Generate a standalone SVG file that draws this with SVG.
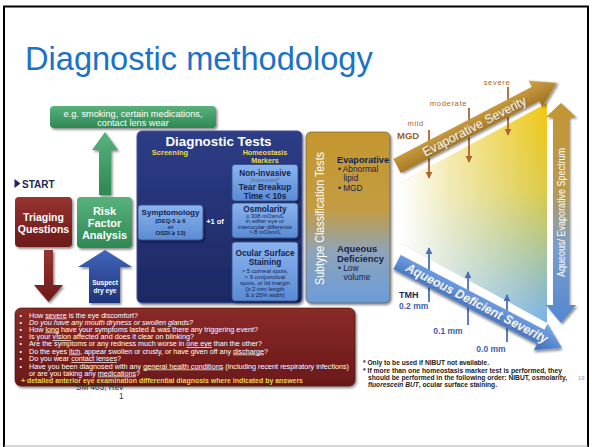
<svg xmlns="http://www.w3.org/2000/svg" width="592" height="447" viewBox="0 0 592 447">
<defs>
<style>
text{font-family:"Liberation Sans",Arial,Helvetica,sans-serif}
.wb{fill:#fff;font-weight:bold}
.nv{fill:#15234f}
.nvb{fill:#15234f;font-weight:bold}
.yl{fill:#ecd94a;font-weight:bold}
.q{fill:#fff;font-size:7px}
.br{fill:#a8672e;font-size:7.5px;letter-spacing:0.7px}
.bl{fill:#3a5fae;font-size:8.5px;font-weight:bold}
.note{fill:#222;font-size:6.6px;font-weight:bold}
.u{text-decoration:underline}
</style>
<filter id="sh" x="-10%" y="-10%" width="130%" height="130%"><feDropShadow dx="1.5" dy="1.8" stdDeviation="1" flood-color="#000" flood-opacity="0.45"/></filter>
<filter id="ts" x="-5%" y="-20%" width="110%" height="150%"><feDropShadow dx="0.6" dy="0.6" stdDeviation="0.4" flood-color="#000" flood-opacity="0.5"/></filter>
<linearGradient id="gGreen" x1="0" y1="0" x2="0" y2="1"><stop offset="0" stop-color="#58b27c"/><stop offset="1" stop-color="#2f8853"/></linearGradient>
<linearGradient id="gRed" x1="0" y1="0" x2="0" y2="1"><stop offset="0" stop-color="#973330"/><stop offset="1" stop-color="#6c1919"/></linearGradient>
<linearGradient id="gRedBox" x1="0" y1="0" x2="0" y2="1"><stop offset="0" stop-color="#8a2a28"/><stop offset="1" stop-color="#6a1818"/></linearGradient>
<linearGradient id="gNavy" x1="0" y1="0" x2="0" y2="1"><stop offset="0" stop-color="#2d3d86"/><stop offset="1" stop-color="#1c2863"/></linearGradient>
<linearGradient id="gLb" x1="0" y1="0" x2="0" y2="1"><stop offset="0" stop-color="#8ab4ee"/><stop offset="1" stop-color="#5a8bd3"/></linearGradient>
<linearGradient id="gSus" x1="0" y1="0" x2="0" y2="1"><stop offset="0" stop-color="#4066bb"/><stop offset="1" stop-color="#1f337c"/></linearGradient>
<linearGradient id="gSub" x1="0" y1="0" x2="0" y2="1"><stop offset="0" stop-color="#c4962e"/><stop offset="0.45" stop-color="#c39c42"/><stop offset="0.7" stop-color="#8ea4b8"/><stop offset="1" stop-color="#6a9bdc"/></linearGradient>
<linearGradient id="gEvap" x1="0" y1="0" x2="0" y2="1"><stop offset="0" stop-color="#d2a646"/><stop offset="1" stop-color="#9a6d20"/></linearGradient>
<linearGradient id="gAq" x1="0" y1="0" x2="0" y2="1"><stop offset="0" stop-color="#7aaae6"/><stop offset="1" stop-color="#3c6cbf"/></linearGradient>
<linearGradient id="gSpec" x1="0" y1="0" x2="0" y2="1"><stop offset="0" stop-color="#c49532"/><stop offset="0.4" stop-color="#b89a50"/><stop offset="0.65" stop-color="#7c9ec8"/><stop offset="1" stop-color="#5286d2"/></linearGradient>
<linearGradient id="gTri" x1="0" y1="103" x2="0" y2="323" gradientUnits="userSpaceOnUse"><stop offset="0" stop-color="#f1c914"/><stop offset="0.4" stop-color="#dccb4a"/><stop offset="0.7" stop-color="#a8c4a0"/><stop offset="1" stop-color="#78b2ea"/></linearGradient>
<linearGradient id="gFade" x1="400" y1="0" x2="545" y2="0" gradientUnits="userSpaceOnUse"><stop offset="0" stop-color="#fff" stop-opacity="1"/><stop offset="0.35" stop-color="#fff" stop-opacity="0.6"/><stop offset="1" stop-color="#fff" stop-opacity="0"/></linearGradient>
<marker id="mBr" viewBox="0 0 10 10" refX="9" refY="5" markerWidth="4" markerHeight="4" orient="auto"><path d="M0,0 L10,5 L0,10 z" fill="#a8672e"/></marker>
<marker id="mBl" viewBox="0 0 10 10" refX="9" refY="5" markerWidth="4" markerHeight="4" orient="auto"><path d="M0,0 L10,5 L0,10 z" fill="#4a70b8"/></marker>
</defs>

<rect x="0" y="0" width="592" height="447" fill="#fff"/>
<g id="frame">
<line x1="3" y1="6.5" x2="589" y2="6.5" stroke="#000" stroke-width="2"/>
<line x1="4" y1="6" x2="4" y2="447" stroke="#000" stroke-width="2"/>
<line x1="588" y1="6" x2="588" y2="447" stroke="#000" stroke-width="2"/>
<line x1="4" y1="446" x2="588" y2="446" stroke="#aaa" stroke-width="1"/>
</g>

<text id="title" x="25" y="70" font-size="32.6" fill="#1a73c7">Diagnostic methodology</text>

<g id="connectors">
<polygon points="105,132 118,150 111,150 111,195 99,195 99,150 92,150" fill="url(#gGreen)" filter="url(#sh)"/>
<polygon points="44,250 53,250 53,285 63,285 48.5,302 34,285 44,285" fill="url(#gRed)" filter="url(#sh)"/>
<polygon points="105,250 132,267 120,267 120,303 89,303 89,267 78,267" fill="url(#gSus)" filter="url(#sh)"/>
<polygon points="205,215 224,215 224,208 235,220.5 224,233 224,227 205,227" fill="url(#gRed)" filter="url(#sh)"/>
</g>

<g id="risk-examples">
<rect x="50" y="106" width="166" height="22" rx="4" fill="url(#gGreen)" filter="url(#sh)"/>
<text x="133" y="116.5" font-size="9.2" fill="#fff" text-anchor="middle">e.g. smoking, certain medications,</text>
<text x="133" y="126" font-size="9.2" fill="#fff" text-anchor="middle">contact lens wear</text>
</g>

<g id="start">
<polygon points="14.5,179 20.5,183.5 14.5,188" fill="#1c2a55"/>
<text x="22" y="187.5" font-size="10" font-weight="bold" fill="#1c2a55">START</text>
</g>

<g id="triaging">
<rect x="15" y="197" width="57" height="50" rx="4" fill="url(#gRed)" filter="url(#sh)"/>
<text x="43.5" y="221" font-size="10.5" class="wb" text-anchor="middle">Triaging</text>
<text x="43.5" y="232.5" font-size="10.5" class="wb" text-anchor="middle">Questions</text>
</g>

<g id="risk">
<rect x="77" y="197" width="55" height="51" rx="4" fill="url(#gGreen)" filter="url(#sh)"/>
<text x="104.5" y="215" font-size="11" class="wb" text-anchor="middle">Risk</text>
<text x="104.5" y="227" font-size="11" class="wb" text-anchor="middle">Factor</text>
<text x="104.5" y="239" font-size="11" class="wb" text-anchor="middle">Analysis</text>
</g>

<g id="suspect">
<text x="105" y="284.5" font-size="6.6" class="wb" text-anchor="middle">Suspect</text>
<text x="105" y="292.5" font-size="6.6" class="wb" text-anchor="middle">dry eye</text>
</g>

<g id="diagnostic-tests">
<rect x="137" y="131" width="165" height="172" rx="5" fill="url(#gNavy)" stroke="#43539a" stroke-width="1" filter="url(#sh)"/>
<text x="218.5" y="145.5" font-size="13.4" class="wb" text-anchor="middle">Diagnostic Tests</text>
<text x="170" y="155" font-size="7.5" class="yl" text-anchor="middle">Screening</text>
<text x="265" y="154.5" font-size="7.2" class="yl" text-anchor="middle">Homeostasis</text>
<text x="265" y="162.6" font-size="7.2" class="yl" text-anchor="middle">Markers</text>
</g>

<g id="symptomology">
<rect x="138" y="205" width="65" height="35" rx="3" fill="url(#gLb)" stroke="#2d4a8c" stroke-width="0.8" filter="url(#sh)"/>
<text x="170.5" y="215" font-size="8" class="nvb" text-anchor="middle">Symptomology</text>
<text x="170.5" y="223" font-size="6" class="nvb" text-anchor="middle">(DEQ-5 ≥ 6</text>
<text x="170.5" y="229" font-size="6" class="nvb" text-anchor="middle">or</text>
<text x="170.5" y="235" font-size="6" class="nvb" text-anchor="middle">OSDI ≥ 13)</text>
</g>

<text x="215" y="224" font-size="7.5" class="wb" text-anchor="middle">+1 of</text>

<g id="non-invasive">
<rect x="232" y="164.5" width="66" height="36.5" rx="3" fill="url(#gLb)" stroke="#2d4a8c" stroke-width="0.8" filter="url(#sh)"/>
<text x="265" y="176" font-size="8.3" class="nvb" text-anchor="middle">Non-invasive</text>
<text x="265" y="181.5" font-size="5" fill="#53648f" text-anchor="middle">[fluorescein]*</text>
<text x="265" y="190" font-size="8.3" class="nvb" text-anchor="middle">Tear Breakup</text>
<text x="265" y="199" font-size="8.3" class="nvb" text-anchor="middle">Time &lt; 10s</text>
</g>

<g id="osmolarity">
<rect x="232" y="203" width="66" height="35" rx="3" fill="url(#gLb)" stroke="#2d4a8c" stroke-width="0.8" filter="url(#sh)"/>
<text x="265" y="211.5" font-size="8.3" class="nvb" text-anchor="middle">Osmolarity</text>
<text x="265" y="217.5" font-size="5.8" class="nv" text-anchor="middle">≥ 308 mOsm/L</text>
<text x="265" y="223" font-size="5.8" class="nv" text-anchor="middle">in either eye or</text>
<text x="265" y="228.5" font-size="5.8" class="nv" text-anchor="middle">interocular difference</text>
<text x="265" y="234" font-size="5.8" class="nv" text-anchor="middle">&gt; 8 mOsm/L</text>
</g>

<g id="ocular-surface">
<rect x="232" y="242" width="66" height="59" rx="3" fill="url(#gLb)" stroke="#2d4a8c" stroke-width="0.8" filter="url(#sh)"/>
<text x="265" y="256" font-size="8.3" class="nvb" text-anchor="middle">Ocular Surface</text>
<text x="265" y="264.5" font-size="8.3" class="nvb" text-anchor="middle">Staining</text>
<text x="265" y="273" font-size="5.9" class="nv" text-anchor="middle">&gt; 5 corneal spots,</text>
<text x="265" y="279" font-size="5.9" class="nv" text-anchor="middle">&gt; 9 conjunctival</text>
<text x="265" y="285" font-size="5.9" class="nv" text-anchor="middle">spots, or lid margin</text>
<text x="265" y="291" font-size="5.9" class="nv" text-anchor="middle">[≥ 2 mm length</text>
<text x="265" y="297" font-size="5.9" class="nv" text-anchor="middle">&amp; ≥ 25% width]</text>
</g>

<g id="subtype">
<rect x="306" y="132" width="84" height="171" rx="5" fill="url(#gSub)" stroke="#5a5030" stroke-width="0.6" filter="url(#sh)"/>
<text transform="translate(324,285) rotate(-90)" font-size="13" fill="#fff" textLength="133" lengthAdjust="spacingAndGlyphs">Subtype Classification Tests</text>
<text x="337" y="163" font-size="9.2" class="nvb">Evaporative</text>
<text x="338" y="172" font-size="8.3" class="nv">• Abnormal</text>
<text x="343.5" y="181" font-size="8.3" class="nv">lipid</text>
<text x="338" y="191" font-size="8.3" class="nv">• MGD</text>
<text x="337" y="252" font-size="9.4" class="nvb">Aqueous</text>
<text x="337" y="261.5" font-size="9.4" class="nvb">Deficiency</text>
<text x="338" y="271" font-size="8.3" class="nv">• Low</text>
<text x="343.5" y="280" font-size="8.3" class="nv">volume</text>
</g>

<g id="severity-triangle">
<polygon points="400,183 547,103 547,323 400,243" fill="url(#gTri)"/>
<polygon points="400,183 547,103 547,323 400,243" fill="url(#gFade)"/>
</g>

<g id="severity-ticks">
<line x1="429" y1="130" x2="429" y2="178" stroke="#a8672e" stroke-width="1.8" marker-end="url(#mBr)"/>
<line x1="469" y1="108" x2="469" y2="162" stroke="#a8672e" stroke-width="1.8" marker-end="url(#mBr)"/>
<line x1="508" y1="87" x2="508" y2="135" stroke="#a8672e" stroke-width="1.8" marker-end="url(#mBr)"/>
<line x1="429" y1="302" x2="429" y2="248" stroke="#4a70b8" stroke-width="1.8" marker-end="url(#mBl)"/>
<line x1="468" y1="325" x2="468" y2="272" stroke="#4a70b8" stroke-width="1.8" marker-end="url(#mBl)"/>
<line x1="507" y1="342" x2="507" y2="295" stroke="#4a70b8" stroke-width="1.8" marker-end="url(#mBl)"/>
</g>

<g id="evaporative-severity" transform="translate(397,166) rotate(-27.5)">
<polygon points="0,-8 156,-8 156,-15 180,0 156,15 156,8 0,8" fill="url(#gEvap)" filter="url(#sh)"/>
<text x="87" y="4.5" font-size="12.5" fill="#fff" text-anchor="middle" textLength="115" lengthAdjust="spacingAndGlyphs" filter="url(#ts)">Evaporative Severity</text>
</g>

<g id="aqueous-severity" transform="translate(397,262) rotate(27.5)">
<polygon points="0,-8 162,-8 162,-15 186,0 162,15 162,8 0,8" fill="url(#gAq)" filter="url(#sh)"/>
<text x="90" y="4.3" font-size="12.2" fill="#fff" font-weight="bold" font-style="italic" text-anchor="middle" textLength="158" lengthAdjust="spacingAndGlyphs" filter="url(#ts)">Aqueous Deficient Severity</text>
</g>

<g id="spectrum">
<polygon points="561,103 576,117 569,117 569,305 576,305 561,323 546,305 553,305 553,117 546,117" fill="url(#gSpec)" filter="url(#sh)"/>
<text transform="translate(565,277) rotate(-90)" font-size="11" fill="#fff" textLength="129" lengthAdjust="spacingAndGlyphs">Aqueous/ Evaporative Spectrum</text>
</g>

<g id="severity-labels">
<text x="497" y="85" class="br" text-anchor="middle">severe</text>
<text x="448.5" y="106" class="br" text-anchor="middle">moderate</text>
<text x="424" y="125.5" class="br" text-anchor="end">mild</text>
<text x="397" y="139" font-size="9.5" font-weight="bold" fill="#a0602a">MGD</text>
<text x="399" y="298" font-size="9" font-weight="bold" fill="#1c2a55">TMH</text>
<text x="399" y="309" class="bl">0.2 mm</text>
<text x="448" y="334" class="bl" text-anchor="middle">0.1 mm</text>
<text x="491" y="352" class="bl" text-anchor="middle">0.0 mm</text>
</g>

<g id="triage-questions">
<rect x="15" y="308" width="340" height="78" rx="6" fill="url(#gRedBox)" stroke="#3a0c0c" stroke-width="0.6" filter="url(#sh)"/>
<g class="q">
<text x="19.5" y="317.5">•</text><text x="19.5" y="324.5">•</text><text x="19.5" y="331.5">•</text><text x="19.5" y="339">•</text>
<text x="19.5" y="346">•</text><text x="19.5" y="353.5">•</text><text x="19.5" y="361">•</text><text x="19.5" y="368.5">•</text>
<text x="29" y="317.5" textLength="109" lengthAdjust="spacingAndGlyphs">How <tspan class="u">severe</tspan> is the eye discomfort?</text>
<text x="29" y="324.5" font-style="italic" textLength="164" lengthAdjust="spacingAndGlyphs">Do you have any mouth dryness or swollen glands?</text>
<text x="29" y="331.5" textLength="229" lengthAdjust="spacingAndGlyphs">How <tspan class="u">long</tspan> have your symptoms lasted &amp; was there any triggering event?</text>
<text x="29" y="339" textLength="165" lengthAdjust="spacingAndGlyphs">Is your <tspan class="u">vision</tspan> affected and does it clear on blinking?</text>
<text x="29" y="346" textLength="233" lengthAdjust="spacingAndGlyphs">Are the symptoms or any redness much worse in <tspan class="u">one eye</tspan> than the other?</text>
<text x="29" y="353.5" textLength="239" lengthAdjust="spacingAndGlyphs">Do the eyes <tspan class="u">itch</tspan>, appear swollen or crusty, or have given off any <tspan class="u">discharge</tspan>?</text>
<text x="29" y="361" textLength="92" lengthAdjust="spacingAndGlyphs">Do you wear <tspan class="u">contact lenses</tspan>?</text>
<text x="29" y="368.5" textLength="320" lengthAdjust="spacingAndGlyphs">Have you been diagnosed with any <tspan class="u">general health conditions</tspan> (including recent respiratory infections)</text>
<text x="29" y="375.5" textLength="111" lengthAdjust="spacingAndGlyphs">or are you taking any <tspan class="u">medications</tspan>?</text>
</g>
<text x="21" y="383" font-size="7" class="yl" textLength="282" lengthAdjust="spacingAndGlyphs">+ detailed anterior eye examination differential diagnosis where indicated by answers</text>
</g>

<g id="footer">
<text x="76" y="389.5" font-size="8.2" fill="#333">SM 403, Rev</text>
<text x="119" y="399" font-size="8.2" fill="#333">1</text>
</g>

<g id="notes">
<text x="363" y="365" class="note" textLength="126" lengthAdjust="spacingAndGlyphs">* Only to be used if NIBUT not available.</text>
<text x="363" y="373" class="note" textLength="199" lengthAdjust="spacingAndGlyphs">* If more than one homeostasis marker test is performed, they</text>
<text x="368" y="380" class="note" textLength="199" lengthAdjust="spacingAndGlyphs">should be performed in the following order: NIBUT, osmolarity,</text>
<text x="368" y="387" class="note" textLength="129" lengthAdjust="spacingAndGlyphs"><tspan font-style="italic">fluorescein BUT</tspan>, ocular surface staining.</text>
<text x="578" y="380" font-size="6" fill="#999">19</text>
</g>
</svg>
